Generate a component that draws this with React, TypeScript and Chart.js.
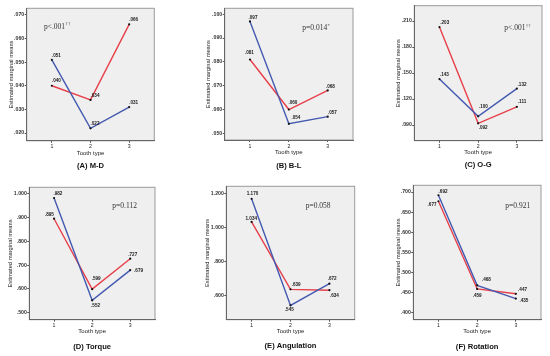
import React, { useEffect, useRef } from "react";
import { Chart, registerables } from "chart.js";

Chart.register(...registerables);

// ---------- data ----------
const toothTypes = [1, 2, 3];

const mdBlue = [0.051, 0.022, 0.031];
const mdRed = [0.040, 0.034, 0.066];
const blBlue = [0.097, 0.054, 0.057];
const blRed = [0.081, 0.060, 0.068];
const ogBlue = [0.143, 0.100, 0.132];
const ogRed = [0.203, 0.092, 0.111];
const torqueBlue = [0.982, 0.552, 0.679];
const torqueRed = [0.895, 0.599, 0.727];
const angBlue = [1.170, 0.545, 0.672];
const angRed = [1.034, 0.639, 0.634];
const rotBlue = [0.692, 0.468, 0.435];
const rotRed = [0.677, 0.459, 0.447];

const mdTicks = [0.02, 0.03, 0.04, 0.05, 0.06, 0.07];
const blTicks = [0.05, 0.06, 0.07, 0.08, 0.09, 0.1];
const ogTicks = [0.09, 0.12, 0.15, 0.18, 0.21];
const torqueTicks = [0.5, 0.6, 0.7, 0.8, 0.9, 1.0];
const angTicks = [0.6, 0.8, 1.0, 1.2];
const rotTicks = [0.4, 0.45, 0.5, 0.55, 0.6, 0.65, 0.7];

const captions = ["(A) M-D", "(B) B-L", "(C) O-G", "(D) Torque", "(E) Angulation", "(F) Rotation"];
const pMain = ["p<.001", "p=0.014", "p<.001", "p=0.112", "p=0.058", "p=0.921"];
const pSup = ["††", "*", "††", "", "", ""];

const xTitle = "Tooth type";
const yTitle = "Estimated marginal means";

// ---------- styles / layout ----------
const BLUE = "#4459b0";
const RED = "#e8404a";
const SANS = "'Liberation Sans', Arial, sans-serif";
const SERIF = "'Liberation Serif', 'Times New Roman', serif";
const XH = 18;

// label offsets [dx, dy] for blue then red
const panels = [
  { left: 0, top: 0, w: 183, h: 178, L: 26.7, R: 154.3, T: 8.3, B: 140.8, yt: 11, capY: 165.7, min: 0.0167, max: 0.0728,
    blue: mdBlue, red: mdRed, ticks: mdTicks, pX: 44, pY: 26.7,
    bOff: [[4.5, -4.5], [4.5, -4.8], [4.5, -4]], rOff: [[4.5, -5], [4.5, -4.3], [4.5, -4.3]] },
  { left: 183, top: 0, w: 183, h: 178, L: 41.7, R: 170, T: 8.3, B: 140, yt: 25, capY: 165.7, min: 0.0472, max: 0.1025,
    blue: blBlue, red: blRed, ticks: blTicks, pX: 119.3, pY: 28.3,
    bOff: [[3, -3.5], [7, -5.7], [4.7, -4.4]], rOff: [[-0.6, -6.3], [4, -6.3], [2.7, -3.7]] },
  { left: 366, top: 0, w: 184, h: 178, L: 48.3, R: 176, T: 5.7, B: 140.7, yt: 32, capY: 164.5, min: 0.0719, max: 0.2277,
    blue: ogBlue, red: ogRed, ticks: ogTicks, pX: 138.3, pY: 28.3,
    bOff: [[5, -4], [5.3, -9.6], [5.2, -3.7]], rOff: [[5.3, -4], [5, 4], [5.2, -5]] },
  { left: 0, top: 178, w: 183, h: 178, L: 29.3, R: 155, T: 9.3, B: 141.7, yt: 10.7, capY: 169, min: 0.4706, max: 1.027,
    blue: torqueBlue, red: torqueRed, ticks: torqueTicks, pX: 112.3, pY: 28.3,
    bOff: [[3.8, -4], [3.4, 5], [8.3, 0.3]], rOff: [[-4.7, -3.7], [4, -10], [2.5, -4.3]] },
  { left: 183, top: 178, w: 183, h: 178, L: 43.3, R: 171.7, T: 8.3, B: 141.7, yt: 24.3, capY: 168.3, min: 0.461, max: 1.243,
    blue: angBlue, red: angRed, ticks: angTicks, pX: 122.7, pY: 28.3,
    bOff: [[0.9, -5], [-1.2, 4.7], [2.7, -5.3]], rOff: [[-0.3, -3.3], [5.7, -4.7], [5, 5.3]] },
  { left: 366, top: 178, w: 184, h: 178, L: 47.3, R: 175, T: 7.3, B: 141.7, yt: 32.3, capY: 169.3, min: 0.3826, max: 0.7167,
    blue: rotBlue, red: rotRed, ticks: rotTicks, pX: 139.3, pY: 28.3,
    bOff: [[4.6, -3.7], [9.3, -5.3], [8, 2.4]], rOff: [[-6.4, 3], [0, 6.7], [6.7, -4]] },
];

const fmt = (v: number) => {
  const s = Number(v).toFixed(3);
  return s.startsWith("0") ? s.slice(1) : s;
};

function Panel({ idx }: { idx: number }) {
  const ref = useRef<HTMLCanvasElement | null>(null);
  const p = panels[idx];

  useEffect(() => {
    if (!ref.current) return;
    const deco = {
      id: "deco" + idx,
      beforeDraw(chart: any) {
        const { ctx, chartArea: a } = chart;
        ctx.save();
        ctx.fillStyle = "#ffffff";
        ctx.fillRect(0, 0, chart.width, chart.height);
        ctx.fillStyle = "#efefef";
        ctx.fillRect(a.left, a.top, a.right - a.left, a.bottom - a.top);
        ctx.strokeStyle = "#9a9a9a";
        ctx.lineWidth = 1;
        ctx.strokeRect(a.left, a.top, a.right - a.left, a.bottom - a.top);
        ctx.restore();
      },
      afterDatasetsDraw(chart: any) {
        const { ctx, chartArea: a } = chart;
        ctx.save();
        ctx.font = "bold 4.6px " + SANS;
        ctx.fillStyle = "#1a1a1a";
        ctx.textAlign = "center";
        ctx.textBaseline = "middle";
        [p.bOff, p.rOff].forEach((offs, di) => {
          const meta = chart.getDatasetMeta(di);
          const vals = di === 0 ? p.blue : p.red;
          meta.data.forEach((el: any, j: number) => {
            ctx.fillText(fmt(vals[j]), el.x + offs[j][0], el.y + offs[j][1]);
          });
        });
        // p value text
        ctx.textAlign = "left";
        ctx.fillStyle = "#333333";
        ctx.font = "7.5px " + SERIF;
        ctx.fillText(pMain[idx], p.pX, p.pY);
        const w = ctx.measureText(pMain[idx]).width;
        if (pSup[idx]) {
          ctx.font = "5px " + SERIF;
          ctx.fillText(pSup[idx], p.pX + w + 0.3, p.pY - 2.6);
        }
        // caption
        ctx.font = "bold 7.6px " + SANS;
        ctx.fillStyle = "#111111";
        ctx.textAlign = "center";
        ctx.fillText(captions[idx], (a.left + a.right) / 2, p.capY);
        ctx.restore();
      },
    };

    const chart = new Chart(ref.current, {
      type: "line",
      data: {
        datasets: [
          {
            data: toothTypes.map((x, i) => ({ x, y: p.blue[i] })),
            borderColor: BLUE,
            borderWidth: 1.4,
            pointRadius: 1.1,
            pointBackgroundColor: "#111",
            pointBorderWidth: 0,
            tension: 0,
          },
          {
            data: toothTypes.map((x, i) => ({ x, y: p.red[i] })),
            borderColor: RED,
            borderWidth: 1.4,
            pointRadius: 1.1,
            pointBackgroundColor: "#111",
            pointBorderWidth: 0,
            tension: 0,
          },
        ],
      },
      options: {
        responsive: false,
        animation: false,
        events: [],
        layout: { padding: { left: 0, top: p.T, right: p.w - p.R, bottom: p.h - p.B - XH } },
        plugins: { legend: { display: false }, tooltip: { enabled: false }, title: { display: false } },
        scales: {
          x: {
            type: "linear",
            min: 0.35,
            max: 3.65,
            afterBuildTicks: (s: any) => {
              s.ticks = toothTypes.map((v) => ({ value: v }));
            },
            afterFit: (s: any) => {
              s.height = XH;
            },
            grid: { drawOnChartArea: false, tickLength: 2, color: "#555" },
            border: { display: true, color: "#666" },
            ticks: { font: { size: 5.2, family: SANS }, color: "#222", padding: 1, maxRotation: 0, autoSkip: false, callback: (v: any) => String(v) },
            title: { display: true, text: xTitle, font: { size: 6, family: SANS }, color: "#222", padding: { top: 0, bottom: 2.3 } },
          },
          y: {
            type: "linear",
            min: p.min,
            max: p.max,
            afterBuildTicks: (s: any) => {
              s.ticks = p.ticks.map((v) => ({ value: v }));
            },
            afterFit: (s: any) => {
              s.width = p.L;
            },
            grid: { drawOnChartArea: false, tickLength: 2, color: "#555" },
            border: { display: true, color: "#666" },
            ticks: { font: { size: 5.2, weight: "bold", family: SANS }, color: "#333", padding: 0.5, autoSkip: false, callback: (v: any) => fmt(v) },
            title: { display: true, text: yTitle, font: { size: 5.75, family: SANS }, color: "#222", padding: { top: p.yt - 3.45, bottom: 0 } },
          },
        },
      } as any,
      plugins: [deco],
    });
    return () => chart.destroy();
  }, []);

  return (
    <canvas
      ref={ref}
      width={p.w}
      height={p.h}
      style={{ position: "absolute", left: p.left, top: p.top, width: p.w, height: p.h }}
    />
  );
}

export default function App() {
  return (
    <div style={{ position: "absolute", left: 0, top: 0, width: 550, height: 356, background: "#fff" }}>
      {panels.map((_, i) => (
        <Panel key={i} idx={i} />
      ))}
    </div>
  );
}
